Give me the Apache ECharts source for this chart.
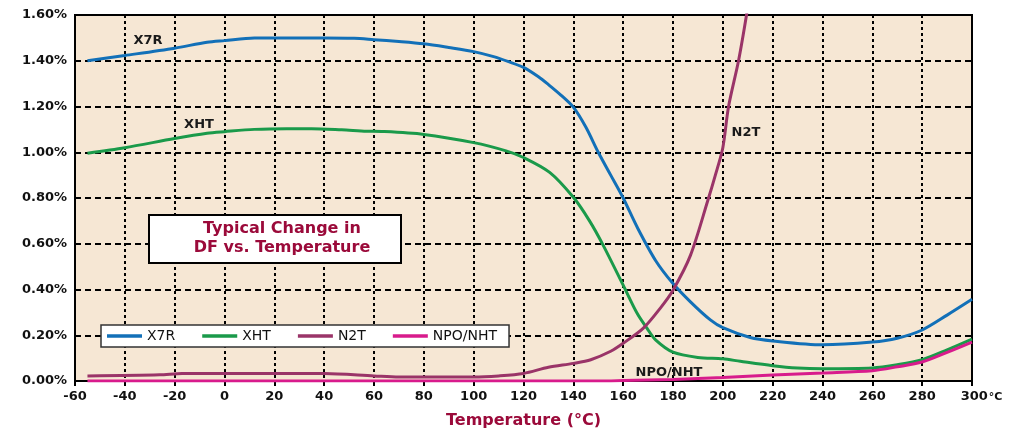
<!DOCTYPE html>
<html>
<head>
<meta charset="utf-8">
<script src="https://cdn.jsdelivr.net/npm/echarts@6/dist/echarts.min.js"></script>
<style>
html,body{margin:0;padding:0;background:#fff;}
#c{width:1010px;height:434px;}
</style>
</head>
<body>
<div id="c"></div>
<script>
// ---- data (temperature °C, dissipation factor %) ----
const seriesNames = ['X7R', 'XHT', 'N2T', 'NPO/NHT'];

const x7rTemp = [-55,-40,-20,-7,0,12,20,40,52,60,70,80,90,100,108,114,120,126,130,135,140,145,150,155,160,165.6,173,180,187,195,200,211,220,240,260,270,280,290,300];
const x7rDF   = [1.40,1.423,1.455,1.481,1.488,1.499,1.50,1.50,1.498,1.492,1.484,1.474,1.458,1.44,1.418,1.396,1.371,1.33,1.296,1.25,1.197,1.11,1.00,0.90,0.80,0.673,0.527,0.426,0.346,0.267,0.233,0.19,0.175,0.158,0.17,0.187,0.223,0.288,0.357];

const xhtTemp = [-55,-40,-20,-7,0,12,25,35,47,57,63,80,100,113,120,130.5,140,146.5,152,160,165.6,169.6,173,180,190,200,207,220,230,240,260,270,280,290,300];
const xhtDF   = [0.996,1.02,1.06,1.083,1.09,1.10,1.103,1.103,1.098,1.092,1.091,1.078,1.042,1.006,0.977,0.912,0.803,0.70,0.593,0.419,0.296,0.23,0.18,0.126,0.103,0.097,0.086,0.067,0.057,0.054,0.057,0.071,0.093,0.136,0.183];

const n2tTemp = [-55,-26,-17,40,60,70,100,110,120,130,140,147,155,160,168,175,180,187,194,197,200,202.3,206.3,209.5,210.5];
const n2tDF   = [0.022,0.027,0.033,0.033,0.022,0.017,0.017,0.022,0.033,0.06,0.077,0.093,0.13,0.165,0.23,0.32,0.397,0.549,0.79,0.90,1.02,1.20,1.40,1.60,1.68];

const npoTemp = [-55,150,160,180,200,220,240,260,270,280,290,300];
const npoDF   = [0,0,0.002,0.007,0.015,0.026,0.035,0.045,0.062,0.083,0.125,0.17];

const xTicks = [-60,-40,-20,0,20,40,60,80,100,120,140,160,180,200,220,240,260,280,300];
const yTicks = [0,0.2,0.4,0.6,0.8,1.0,1.2,1.4,1.6];

const colors = ['#1270B8', '#1A9A4A', '#9A3468', '#D81B8C'];

function pairs(t, v) { return t.map((x, i) => [x, v[i]]); }

const chart = echarts.init(document.getElementById('c'), null, {renderer: 'canvas'});
const FONT = 'DejaVu Sans';

function lineSeries(name, t, v, color) {
  return {
    name: name, type: 'line', data: pairs(t, v),
    symbol: 'none', smooth: 0.3, clip: true,
    lineStyle: {color: color, width: 3},
    itemStyle: {color: color},
    emphasis: {disabled: true}
  };
}

const option = {
  animation: false,
  backgroundColor: '#ffffff',
  grid: {
    left: 75, right: 38, top: 15, bottom: 51,
    show: true, backgroundColor: '#F6E7D4', borderColor: '#000', borderWidth: 2
  },
  xAxis: {
    type: 'value', min: xTicks[0], max: xTicks[xTicks.length - 1], interval: 20,
    axisLine: {show: true, onZero: false, lineStyle: {color: '#000', width: 2}},
    axisTick: {show: true, length: 5, lineStyle: {color: '#000', width: 2}},
    axisLabel: {
      margin: 9, color: '#111', fontFamily: FONT, fontWeight: 'bold', fontSize: 13,
      formatter: function (v) { return v === 300 ? '{pad|}{b|300}{u|°C}' : '{b|' + v + '}'; },
      rich: {
        b: {fontFamily: FONT, fontWeight: 'bold', fontSize: 13, color: '#111'},
        u: {fontFamily: FONT, fontSize: 11, color: '#111', padding: [2, 0, 0, 1]},
        pad: {width: 19}
      }
    },
    splitLine: {show: true, lineStyle: {color: '#000', width: 2, type: [3, 3]}},
    name: 'Temperature (°C)', nameLocation: 'middle', nameGap: 32,
    nameTextStyle: {color: '#9B0A3A', fontFamily: FONT, fontWeight: 'bold', fontSize: 16}
  },
  yAxis: {
    type: 'value', min: yTicks[0], max: yTicks[yTicks.length - 1], interval: 0.2,
    axisLine: {show: true, onZero: false, lineStyle: {color: '#000', width: 2}},
    axisTick: {show: false},
    axisLabel: {
      margin: 8, color: '#111', fontFamily: FONT, fontWeight: 'bold', fontSize: 13,
      formatter: function (v) { return v.toFixed(2) + '%'; }
    },
    splitLine: {show: true, lineStyle: {color: '#000', width: 2, type: [6, 4]}}
  },
  legend: {
    data: seriesNames, left: 101, top: 325, orient: 'horizontal',
    icon: 'rect', itemWidth: 35, itemHeight: 3.5, itemGap: 27,
    padding: [4, 12, 4, 6],
    backgroundColor: '#ffffff', borderColor: '#333', borderWidth: 1.5,
    textStyle: {fontFamily: FONT, fontSize: 14, color: '#111'},
    selectedMode: false
  },
  series: [
    lineSeries(seriesNames[0], x7rTemp, x7rDF, colors[0]),
    lineSeries(seriesNames[1], xhtTemp, xhtDF, colors[1]),
    lineSeries(seriesNames[2], n2tTemp, n2tDF, colors[2]),
    lineSeries(seriesNames[3], npoTemp, npoDF, colors[3])
  ],
  graphic: [
    {type: 'rect', left: 148, top: 214, z: 100,
     shape: {width: 252, height: 48},
     style: {fill: '#fff', stroke: '#000', lineWidth: 2}},
    {type: 'text', x: 282, y: 238, z: 101,
     style: {text: 'Typical Change in\nDF vs. Temperature', fill: '#9B0A3A',
             font: 'bold 16px "DejaVu Sans"', align: 'center', verticalAlign: 'middle', lineHeight: 19}},
    {type: 'text', x: 148, y: 41, z: 101,
     style: {text: 'X7R', fill: '#1a1a1a', font: 'bold 13px "DejaVu Sans"', align: 'center', verticalAlign: 'middle'}},
    {type: 'text', x: 199, y: 125, z: 101,
     style: {text: 'XHT', fill: '#1a1a1a', font: 'bold 13px "DejaVu Sans"', align: 'center', verticalAlign: 'middle'}},
    {type: 'text', x: 746, y: 133, z: 101,
     style: {text: 'N2T', fill: '#1a1a1a', font: 'bold 13px "DejaVu Sans"', align: 'center', verticalAlign: 'middle'}},
    {type: 'text', x: 669, y: 373, z: 101,
     style: {text: 'NPO/NHT', fill: '#1a1a1a', font: 'bold 13px "DejaVu Sans"', align: 'center', verticalAlign: 'middle'}}
  ]
};
chart.setOption(option);
</script>
</body>
</html>
